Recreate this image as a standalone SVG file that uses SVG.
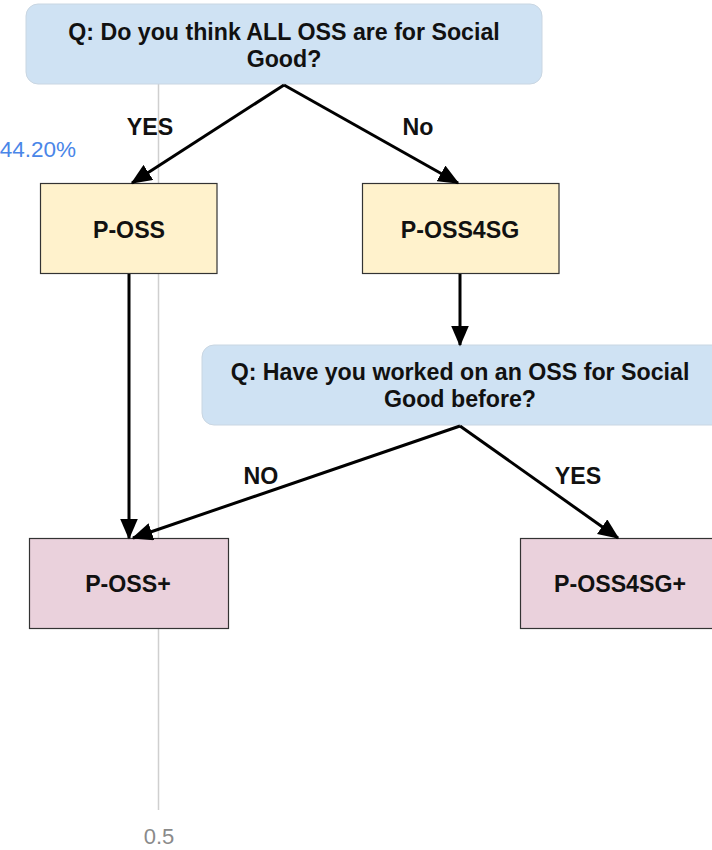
<svg xmlns="http://www.w3.org/2000/svg" width="712" height="850" viewBox="0 0 712 850">
  <style>
    text { font-family: "Liberation Sans", Arial, sans-serif; }
    .lbl { font-size: 23.2px; font-weight: bold; fill: #111; text-anchor: middle; }
    .q { fill: #cfe2f3; stroke: #c9d6e2; stroke-width: 1; }
    .p { fill: #fff2cc; stroke: #333; stroke-width: 1.2; }
    .r { fill: #ead1dc; stroke: #333; stroke-width: 1.2; }
    .edge { fill: none; stroke: #000; stroke-width: 3; marker-end: url(#arrow); }
    .axis { stroke: #cfcfcf; stroke-width: 1.5; }
  </style>
  <defs>
    <marker id="arrow" markerWidth="7" markerHeight="6" refX="6.5" refY="3" orient="auto" markerUnits="strokeWidth">
      <path d="M0,0 L7,3 L0,6 Z" fill="#000"/>
    </marker>
  </defs>
  <rect width="712" height="850" fill="#fff"/>

  <!-- reference axis -->
  <g id="axis">
    <line class="axis" x1="158.5" y1="84" x2="158.5" y2="810"/>
    <text x="159" y="844" font-size="22" fill="#8a8a8a" text-anchor="middle">0.5</text>
    <text x="76" y="157" font-size="22.5" fill="#4a86e8" text-anchor="end">44.20%</text>
  </g>

  <g id="q1">
    <rect class="q" x="26" y="4" width="516" height="80" rx="12"/>
    <text class="lbl" x="284" y="40">Q: Do you think ALL OSS are for Social</text>
    <text class="lbl" x="284" y="67">Good?</text>
  </g>

  <g id="p-oss">
    <rect class="p" x="40.5" y="183.5" width="176.5" height="90"/>
    <text class="lbl" x="129" y="238">P-OSS</text>
  </g>

  <g id="p-oss4sg">
    <rect class="p" x="362.5" y="183.5" width="196.5" height="90"/>
    <text class="lbl" x="460" y="238">P-OSS4SG</text>
  </g>

  <g id="q2">
    <rect class="q" x="202" y="345" width="530" height="80" rx="12"/>
    <text class="lbl" x="460" y="380">Q: Have you worked on an OSS for Social</text>
    <text class="lbl" x="460" y="407">Good before?</text>
  </g>

  <g id="p-oss-plus">
    <rect class="r" x="29.5" y="538.5" width="199" height="90"/>
    <text class="lbl" x="128" y="592">P-OSS+</text>
  </g>

  <g id="p-oss4sg-plus">
    <rect class="r" x="520.5" y="538.5" width="200" height="90"/>
    <text class="lbl" x="620" y="592">P-OSS4SG+</text>
  </g>

  <g id="connectors">
    <path class="edge" d="M284,85 L132,183"/>
    <path class="edge" d="M284,85 L458,183"/>
    <path class="edge" d="M460,274 L460,345"/>
    <path class="edge" d="M129,274 L129,538"/>
    <path class="edge" d="M460,426 L133,538"/>
    <path class="edge" d="M460,426 L618,538"/>
    <text class="lbl" x="150" y="135">YES</text>
    <text class="lbl" x="418" y="135">No</text>
    <text class="lbl" x="261" y="484">NO</text>
    <text class="lbl" x="578" y="484">YES</text>
  </g>
</svg>
